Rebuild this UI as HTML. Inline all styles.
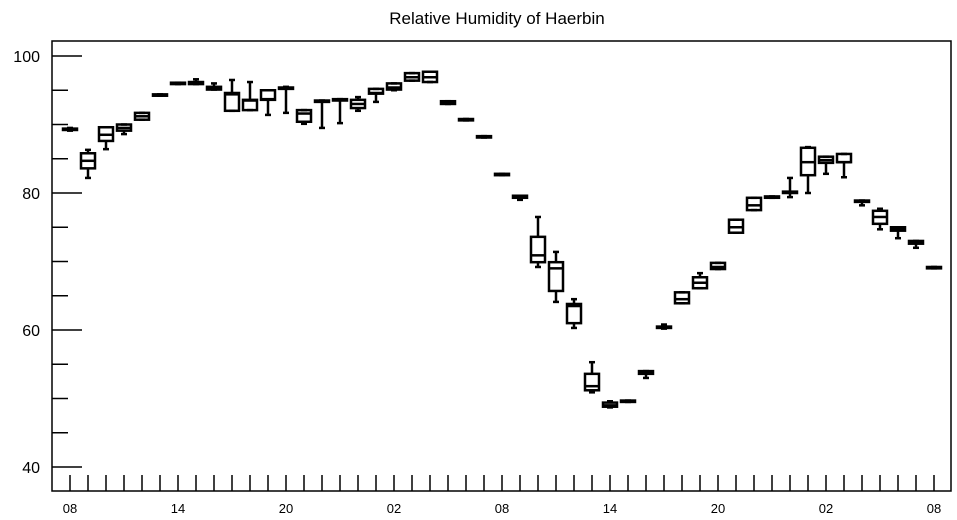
<!DOCTYPE html>
<html><head><meta charset="utf-8"><style>
body{margin:0;background:#fff;}
svg{display:block;font-family:"Liberation Sans",sans-serif;}
</style></head><body>
<svg id="chart" width="957" height="520" viewBox="0 0 957 520">
<text x="497" y="24" font-size="17" text-anchor="middle">Relative Humidity of Haerbin</text>
<rect x="52" y="41" width="899" height="450" fill="none" stroke="#000" stroke-width="1.5"/>
<g id="axes"></g><g id="boxes"></g>
</svg>
<script>
const hourLabels=["08","14","20","02","08","14","20","02","08"];
const yTicks=[40,60,80,100];
// each: [whiskerLow, q1, median, q3, whiskerHigh]
const lows=[89.1,82.2,86.4,88.6,90.7,94.2,95.9,95.9,95.1,92.0,92.1,91.4,91.7,90.1,89.5,90.2,92.0,93.3,95.0,96.4,96.2,93.0,90.6,88.1,82.6,79.0,69.2,64.1,60.3,50.9,48.7,49.5,53.0,60.2,63.9,66.1,68.9,74.2,77.5,79.3,79.4,80.0,82.8,82.3,78.2,74.7,73.4,72.0,69.0];
const q1s=[89.2,83.6,87.6,89.1,90.7,94.2,95.9,95.9,95.1,92.0,92.1,93.6,95.2,90.4,93.3,93.5,92.4,94.5,95.1,96.4,96.2,93.0,90.6,88.1,82.6,79.3,69.9,65.7,61.0,51.2,48.8,49.5,53.6,60.3,63.9,66.1,68.9,74.2,77.5,79.3,80.0,82.6,84.4,84.5,78.7,75.5,74.5,72.6,69.0];
const medians=[89.3,84.7,88.5,89.5,91.2,94.3,96.0,96.1,95.3,94.4,93.5,93.7,95.3,91.6,93.4,93.6,93.0,94.6,95.4,96.9,96.9,93.2,90.7,88.2,82.7,79.4,70.9,69.0,63.5,51.8,49.0,49.6,53.8,60.4,64.5,66.9,69.2,75.0,78.2,79.4,80.1,84.5,84.8,84.5,78.8,76.5,74.7,72.8,69.1];
const q3s=[89.4,85.8,89.6,90.0,91.7,94.4,96.1,96.2,95.5,94.6,93.6,95.0,95.4,92.1,93.5,93.7,93.6,95.2,96.0,97.5,97.7,93.4,90.8,88.3,82.8,79.6,73.6,69.9,63.8,53.6,49.4,49.7,54.0,60.5,65.5,67.7,69.8,76.1,79.3,79.5,80.2,86.6,85.3,85.7,78.9,77.4,75.0,73.0,69.2];
const highs=[89.5,86.3,89.6,90.0,91.7,94.4,96.1,96.6,96.0,96.5,96.2,95.0,95.5,92.1,93.5,93.7,94.0,95.2,96.0,97.5,97.7,93.4,90.8,88.3,82.8,79.6,76.5,71.4,64.5,55.3,49.6,49.7,54.0,60.8,65.5,68.3,69.8,76.1,79.3,79.5,82.2,86.7,85.3,85.7,78.9,77.7,75.0,73.0,69.2];

const NS="http://www.w3.org/2000/svg";
const y=v=>56+(100-v)*6.85;
const x=i=>70+i*18;
function mk(tag,attrs,parent){const e=document.createElementNS(NS,tag);for(const k in attrs)e.setAttribute(k,attrs[k]);parent.appendChild(e);return e;}
const axes=document.getElementById('axes');
for(let v=40;v<=100;v+=5){
  const major=yTicks.includes(v);
  const t=mk('line',{x1:52,x2:major?82:68,y1:y(v),y2:y(v),stroke:'#000','stroke-width':1.5},axes);
  
  
}
yTicks.forEach(v=>{
  const t=mk('text',{x:40,y:y(v)+6,'font-size':16,'text-anchor':'end'},axes);
  t.textContent=v;
  
  
});
for(let i=0;i<49;i++){
  const t=mk('line',{x1:x(i),x2:x(i),y1:475,y2:491,stroke:'#000','stroke-width':1.5},axes);
  
  
}
hourLabels.forEach((l,k)=>{
  const t=mk('text',{x:x(k*6),y:513,'font-size':13,'text-anchor':'middle'},axes);
  t.textContent=l;
  
  
});
const boxes=document.getElementById('boxes');
for(let i=0;i<medians.length;i++){
  const g=mk('g',{stroke:'#000','stroke-width':2.5,fill:'none'},boxes);
  
  
  const cx=x(i);
  mk('line',{x1:cx,x2:cx,y1:y(highs[i]),y2:y(q3s[i])},g);
  mk('line',{x1:cx,x2:cx,y1:y(q1s[i]),y2:y(lows[i])},g);
  mk('line',{x1:cx-3,x2:cx+3,y1:y(highs[i]),y2:y(highs[i])},g);
  mk('line',{x1:cx-3,x2:cx+3,y1:y(lows[i]),y2:y(lows[i])},g);
  const top=y(q3s[i]),h=Math.max(y(q1s[i])-top,1);
  mk('rect',{x:cx-7,y:top,width:14,height:h},g);
  mk('line',{x1:cx-7,x2:cx+7,y1:y(medians[i]),y2:y(medians[i])},g);
}
</script>
</body></html>
